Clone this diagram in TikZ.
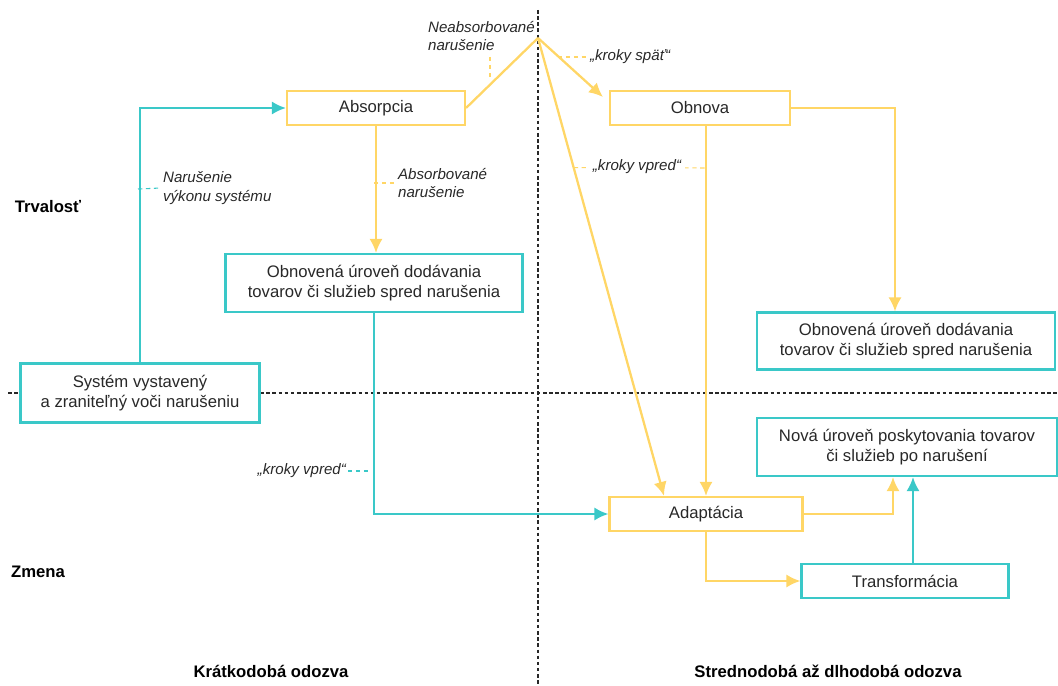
\documentclass[tikz,border=0pt]{standalone}
\usepackage{fontspec}
\setmainfont{Liberation Sans}
\usetikzlibrary{arrows.meta,calc,positioning}
\definecolor{zlta}{RGB}{255,214,102}
\definecolor{tyrk}{RGB}{58,200,200}
\definecolor{sivy}{RGB}{40,40,40}
\tikzstyle{line} = [draw, -{Latex[length=8pt,width=7.5pt]}, line width=1.3pt]
\tikzstyle{yline} = [line, zlta]
\tikzstyle{tline} = [line, tyrk]
\tikzstyle{ybox} = [rectangle, draw=zlta, line width=1.2pt, fill=white, text=sivy, align=center, font=\fontsize{9.5}{11.5}\selectfont]
\tikzstyle{tbox} = [ybox, draw=tyrk]
\tikzstyle{popis} = [text=sivy, align=left, inner sep=1pt, font=\fontsize{8.6}{10.6}\selectfont\itshape]
\tikzstyle{hlavny} = [text=black, font=\fontsize{9.5}{11.5}\selectfont\bfseries]
\tikzstyle{yleader} = [draw=zlta, line width=0.6pt, dash pattern=on 2.5pt off 2pt]
\tikzstyle{tleader} = [yleader, draw=tyrk]
\tikzstyle{delic} = [draw=sivy, line width=0.6pt, dash pattern=on 2pt off 1.5pt]

\begin{document}
\begin{tikzpicture}[x=0.02cm, y=-0.02cm]
	\useasboundingbox (0,0) rectangle (1058,686);
	\draw [delic] (538,10) -- (538,686);
	\draw [delic] (8,393) -- (1058,393);

	\node [ybox, minimum width=3.56cm, minimum height=0.68cm] (absorpcia) at (376,108) {Absorpcia};
	\node [ybox, minimum width=3.6cm, minimum height=0.68cm] (obnova) at (700,108) {Obnova};
	\node [tbox, minimum width=5.94cm, minimum height=1.16cm] (obn_l) at (374,283) {Obnovená úroveň dodávania\\tovarov či služieb spred narušenia};
	\node [tbox, minimum width=5.96cm, minimum height=1.14cm] (obn_r) at (906,341) {Obnovená úroveň dodávania\\tovarov či služieb spred narušenia};
	\node [tbox, minimum width=4.78cm, minimum height=1.18cm] (system) at (140,393) {Systém vystavený\\a zraniteľný voči narušeniu};
	\node [ybox, minimum width=3.86cm, minimum height=0.68cm] (adaptacia) at (706,514) {Adaptácia};
	\node [tbox, minimum width=6cm, minimum height=1.16cm] (nova) at (907,447) {Nová úroveň poskytovania tovarov\\či služieb po narušení};
	\node [tbox, minimum width=4.14cm, minimum height=0.68cm] (transf) at (905,581) {Transformácia};
	\coordinate (peak) at (538,38);
	\coordinate (t_up) at (913,0);

	\node [hlavny] (trvalost) at (48,207) {Trvalosť};
	\node [hlavny] (zmena) at (38,572) {Zmena};
	\node [hlavny] (kratko) at (271,671) {Krátkodobá odozva};
	\node [hlavny] (dlho) at (828,671) {Strednodobá až dlhodobá odozva};

	\draw [zlta, line width=1.3pt] (absorpcia.east) -- (peak);
	\path [yline] (peak) -- ($(obnova.west)+(-6,-11)$);
	\path [yline] (peak) -- ($(adaptacia.north)+(-42,0)$);
	\path [yline] (obnova.south -| adaptacia.north) -- (adaptacia.north);
	\path [yline] (obnova.east) -| ($(obn_r.north)+(-11,0)$);
	\path [yline] (absorpcia.south) -- (absorpcia.south |- obn_l.north);
	\path [yline] (adaptacia.east) -| ($(nova.south)+(-14,0)$);
	\path [yline] (adaptacia.south) |- (transf.west);
	\path [tline] (system.north) |- (absorpcia.west);
	\path [tline] (obn_l.south) |- (adaptacia.west);
	\path [tline] (transf.north -| t_up) -- (nova.south -| t_up);

	\node [popis, anchor=north west] (neabs) at (426,19) {Neabsorbované\\narušenie};
	\draw [yleader] (490,57) -- (490,80);
	\node [popis, anchor=west] (spat) at (588,57) {„kroky späť“};
	\draw [yleader] (558,57) -- (spat.west);
	\node [popis, anchor=west] (abs) at (396,183) {Absorbované\\narušenie};
	\draw [yleader] (374,183) -- (abs.west);
	\node [popis, anchor=west] (narus) at (161,188) {Narušenie\\výkonu systému};
	\draw [tleader] (138,189) -- (narus.west);
	\coordinate (kv_a) at ($(peak)!0.283!($(adaptacia.north)+(-42,0)$)$);
	\draw [yleader] (kv_a) -- (706,168);
	\node [popis, fill=white, inner xsep=2pt] (vpred_m) at (637,167) {„kroky vpred“};
	\node [popis, anchor=east] (vpred_l) at (348,471) {„kroky vpred“};
	\draw [tleader] (vpred_l.east) -- (371,471);
\end{tikzpicture}
\end{document}
